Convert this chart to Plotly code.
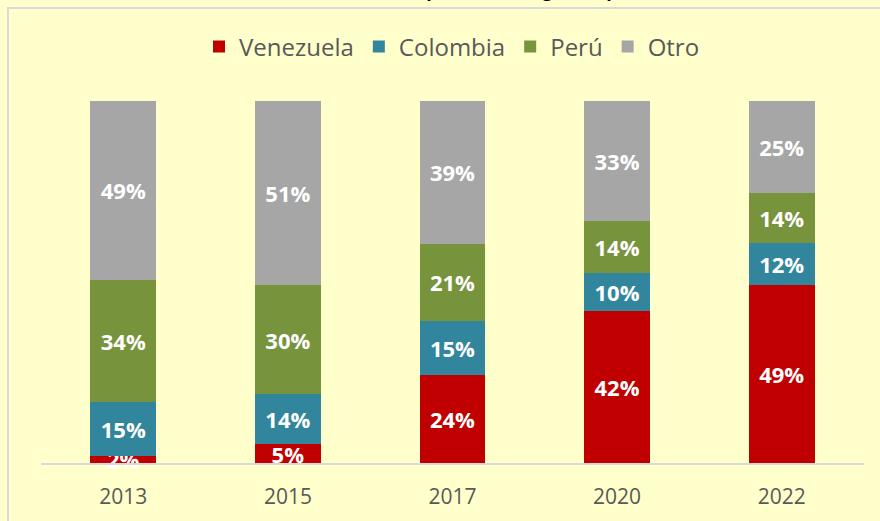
import plotly.graph_objects as go

years = ["2013", "2015", "2017", "2020", "2022"]
venezuela = [2.0, 5.2, 24.3, 42.0, 49.2]
colombia = [14.8, 13.8, 14.9, 10.4, 11.6]
peru = [33.8, 30.2, 21.4, 14.4, 13.8]
otro = [49.4, 50.8, 39.4, 33.2, 25.4]

series = [
    ("Venezuela", venezuela, "#C00000"),
    ("Colombia", colombia, "#31859C"),
    ("Perú", peru, "#77933C"),
    ("Otro", otro, "#A6A6A6"),
]

W, H = 880, 521
ML, MR, MT, MB = 41, 16, 101, 58
pw = W - ML - MR
ph = H - MT - MB

fig = go.Figure()
for name, vals, color in series:
    fig.add_trace(go.Bar(
        x=years, y=vals, name=name,
        marker=dict(color=color, line=dict(width=0)),
        texttemplate="%{y:.0f}%",
        textposition="inside",
        insidetextanchor="middle",
        constraintext="none",
        cliponaxis=False,
        textfont=dict(family="Open Sans", size=22, color="white", weight="bold"),
    ))

def px_x(p):
    return (p - ML) / pw

def px_y(p):
    return (H - MB - p) / ph

fig.update_layout(
    width=W, height=H,
    barmode="stack",
    bargap=0.6,
    paper_bgcolor="#FFFFCC",
    plot_bgcolor="#FFFFCC",
    margin=dict(l=ML, r=MR, t=MT, b=MB),
    uniformtext=dict(minsize=22, mode="show"),
    font=dict(family="Open Sans", color="#595959"),
    showlegend=True,
    legend=dict(
        orientation="h", xanchor="center", yanchor="middle",
        x=px_x(452), y=px_y(47),
        font=dict(family="Open Sans", size=24, color="#595959"),
        bgcolor="rgba(0,0,0,0)", traceorder="normal",
    ),
    xaxis=dict(
        showgrid=False, showline=True, linecolor="#D9D9D9", linewidth=2,
        ticks="", tickfont=dict(family="Open Sans", size=21, color="#595959"),
        ticklabelstandoff=14,
        fixedrange=True,
    ),
    yaxis=dict(
        range=[0, 100], showgrid=False, showline=False, zeroline=False,
        showticklabels=False, fixedrange=True,
    ),
    shapes=[dict(
        type="rect", xref="paper", yref="paper",
        x0=px_x(8), x1=px_x(W + 20), y0=px_y(H + 20), y1=px_y(8),
        line=dict(color="#D9D9D9", width=2), fillcolor="rgba(0,0,0,0)",
        layer="below",
    )],
    annotations=[dict(
        text="Gráfico N° 3: Distribución de la población migrante por nacionalidad",
        xref="paper", yref="paper", x=px_x(452), y=px_y(4.5),
        xanchor="center", yanchor="bottom", showarrow=False,
        font=dict(family="Open Sans", size=18, color="black", weight="bold"),
    )],
)

fig.write_html(
    "out.html",
    config={"displayModeBar": False},
    post_script="document.body.style.margin='0';document.body.style.overflow='hidden';",
)
